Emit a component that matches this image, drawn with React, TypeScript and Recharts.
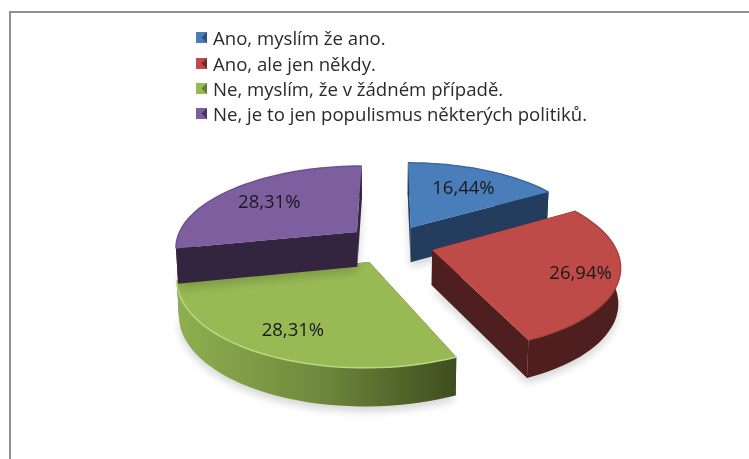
import { Legend, Pie, PieChart } from 'recharts';

const categories = [
  'Ano, myslím že ano.',
  'Ano, ale jen někdy.',
  'Ne, myslím, že v žádném případě.',
  'Ne, je to jen populismus některých politiků.',
];
const shares = [16.44, 26.94, 28.31, 28.31];
const topColors = ['#4a7ebb', '#be4b48', '#98b954', '#7d5fa0'];
const wallColors = ['#243c5e', '#4f1e1e', '#4d6127', '#33253f'];
const edgeColors = ['#3d6a9e', '#a84240', '#b9d983', '#6f5390'];

const tableData = categories.map((name, i) => ({
  name,
  value: shares[i],
  fill: topColors[i],
  wall: wallColors[i],
  edge: edgeColors[i],
}));

// how far along the radius each percentage sits
const labelReach = [0.69, 0.8, 0.754, 0.7];

const RX = 182;
const RY = 81;
const TILT = 0.17;
const EXPLODE = 0.24;
const DEPTH = 35;
const RAD = Math.PI / 180;

// disc coordinates -> screen, nearer points get bigger
function project(cx: number, cy: number, u: number, v: number, drop = 0) {
  const s = 1 / (1 - TILT * v);
  const shrink = drop ? 0.99 : 1;
  return [cx + RX * u * s * shrink, cy + RY * v * s + drop * DEPTH * (0.6 + 0.4 * s)];
}

function pt(p: number[]) {
  return `${p[0].toFixed(1)},${p[1].toFixed(1)}`;
}

function disc(a: number) {
  return [Math.cos(a * RAD), -Math.sin(a * RAD)];
}

function Slice(props: any) {
  const { cx, cy, startAngle, endAngle, fill, payload, index } = props;
  const mid = disc((startAngle + endAngle) / 2);
  const ox = mid[0] * EXPLODE;
  const oy = mid[1] * EXPLODE;
  const steps = 40;
  const arc: number[][] = [];
  for (let i = 0; i <= steps; i++) {
    const d = disc(startAngle + ((endAngle - startAngle) * i) / steps);
    arc.push([d[0] + ox, d[1] + oy]);
  }
  const top = arc.map((a) => project(cx, cy, a[0], a[1]));
  const low = arc.map((a) => project(cx, cy, a[0], a[1], 1));
  const apexTop = project(cx, cy, ox, oy);
  const apexLow = project(cx, cy, ox, oy, 1);
  const topPath = `M${pt(apexTop)}L${top.map(pt).join('L')}Z`;
  const rim = `M${top.map(pt).join('L')}L${low.slice().reverse().map(pt).join('L')}Z`;
  const wallA = `M${pt(apexTop)}L${pt(top[0])}L${pt(low[0])}L${pt(apexLow)}Z`;
  const wallB = `M${pt(apexTop)}L${pt(top[steps])}L${pt(low[steps])}L${pt(apexLow)}Z`;
  const rimFill = index === 2 ? 'url(#greenRim)' : payload.wall;
  return (
    <g>
      <path d={`M${pt(apexLow)}L${low.map(pt).join('L')}Z`} fill="#000" opacity={0.16} filter="url(#soft)" transform="translate(0 5)" />
      <path d={wallA} fill={payload.wall} />
      <path d={wallB} fill={payload.wall} />
      <path d={rim} fill={rimFill} />
      <path d={topPath} fill={fill} />
      <path d={`M${top.map(pt).join('L')}`} fill="none" stroke={payload.edge} strokeWidth={1.5} />
    </g>
  );
}

function renderLabel(props: any) {
  const { cx, cy, midAngle, index, value } = props;
  const mid = disc(midAngle);
  const r = labelReach[index];
  const p = project(cx, cy, mid[0] * (EXPLODE + r), mid[1] * (EXPLODE + r));
  return (
    <text x={p[0]} y={p[1]} textAnchor="middle" dominantBaseline="central" fontSize={18.5} fontFamily="Open Sans" fill="#1a1a1a">
      {`${value.toFixed(2).replace('.', ',')}%`}
    </text>
  );
}

function LegendBox({ payload }: any) {
  return (
    <div>
      {(payload || []).map((item: any, i: number) => (
        <div key={i} style={{ display: 'flex', alignItems: 'center', height: 25.4, fontFamily: 'Open Sans', fontSize: 18.6, color: '#2a2a2a', whiteSpace: 'nowrap' }}>
          <svg width={11} height={11} style={{ marginRight: 6, flex: 'none' }}>
            <rect width={11} height={11} fill={topColors[i]} />
            <path d="M0,0L5.5,5.5L0,11Z" fill={topColors[i]} opacity={0.7} />
            <path d="M11,0L5.5,5.5L11,11Z" fill={wallColors[i]} opacity={0.7} />
          </svg>
          {item.value}
        </div>
      ))}
    </div>
  );
}

export default function App() {
  return (
    <div style={{ position: 'absolute', left: 0, top: 0, width: 749, height: 459, background: '#fff', overflow: 'hidden' }}>
      <div style={{ position: 'absolute', left: 9, top: 11, width: 760, height: 460, border: '2px solid #909090', boxSizing: 'border-box' }} />
      <PieChart width={749} height={459} margin={{ top: 0, right: 0, bottom: 0, left: 0 }} style={{ position: 'absolute', left: 0, top: 0, filter: 'blur(0.4px)' }}>
        <defs>
          <linearGradient id="greenRim" gradientUnits="userSpaceOnUse" x1="180" y1="0" x2="455" y2="0">
            <stop offset="0" stopColor="#8fae50" />
            <stop offset="0.5" stopColor="#6f8a3c" />
            <stop offset="1" stopColor="#3e4e20" />
          </linearGradient>
          <filter id="soft" x="-20%" y="-20%" width="140%" height="140%">
            <feGaussianBlur stdDeviation="4" />
          </filter>
        </defs>
        <Pie
          data={tableData}
          dataKey="value"
          nameKey="name"
          cx={390}
          cy={244}
          outerRadius={180}
          startAngle={90}
          endAngle={-270}
          shape={Slice}
          label={renderLabel}
          labelLine={false}
          stroke="none"
          isAnimationActive={false}
        />
        <Legend
          layout="vertical"
          verticalAlign="top"
          align="left"
          itemSorter={null}
          content={LegendBox}
          wrapperStyle={{ left: 196, top: 25, width: 0 }}
        />
      </PieChart>
    </div>
  );
}
